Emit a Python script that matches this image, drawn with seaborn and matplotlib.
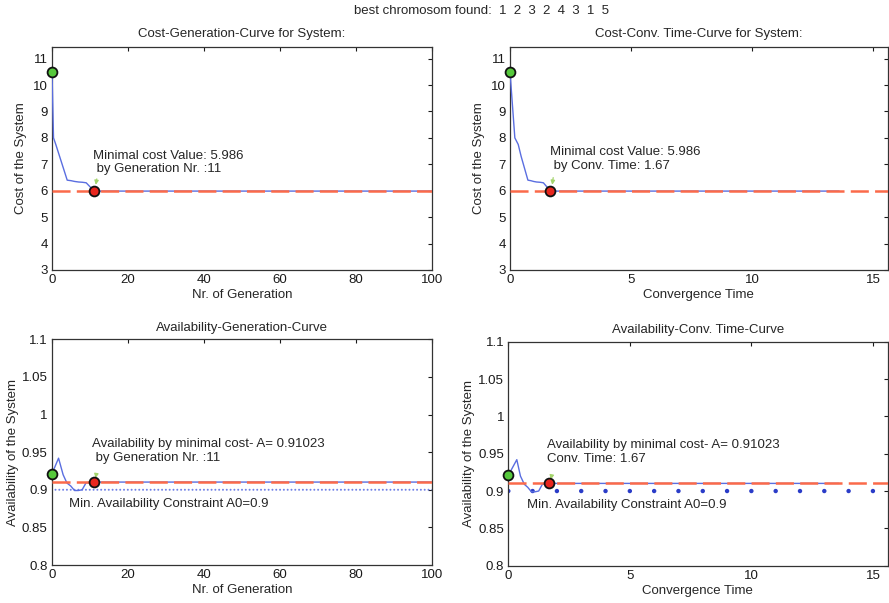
import matplotlib
matplotlib.use("Agg")
import matplotlib.pyplot as plt
import matplotlib.ticker as mticker
import numpy as np
import pandas as pd
import seaborn as sns

# ---- results of the genetic algorithm run ----
best_chromosome = [1, 2, 3, 2, 4, 3, 1, 5]

# best cost per generation (and the elapsed convergence time of each step)
cost_gen = [0, 0.4, 1, 2, 3, 4, 5, 6, 7, 8, 9, 10, 11]
cost_val = [10.5, 8.0, 7.75, 7.3, 6.85, 6.4, 6.38, 6.35, 6.33, 6.32, 6.3, 6.15, 5.986]
cost_time = [0, 0.2, 0.34, 0.46, 0.6, 0.74, 0.86, 0.98, 1.1, 1.24, 1.38, 1.52, 1.67]

# availability of the best individual per generation
avail_gen = [0, 0.8, 1.8, 3, 4, 5, 6, 7, 8, 9, 10, 11]
avail_val = [0.921, 0.93, 0.942, 0.92, 0.909, 0.905, 0.899, 0.899, 0.9, 0.909, 0.910, 0.91023]
avail_time = [0, 0.15, 0.35, 0.5, 0.66, 0.8, 0.95, 1.1, 1.25, 1.4, 1.55, 1.67]

last_gen = 100
last_time = 13.6
best_gen = 11
best_time = 1.67
min_cost = 5.986
best_avail = 0.91023
avail_constraint = 0.9

time_axis_max = 15.6
gen_ticks = [0, 20, 40, 60, 80, 100]
time_ticks = [0, 5, 10, 15]
cost_ticks = [3, 4, 5, 6, 7, 8, 9, 10, 11]
avail_ticks = [0.8, 0.85, 0.9, 0.95, 1.0, 1.05, 1.1]

# ---- styling ----
sns.set_theme(style="white")
plt.rcParams["font.family"] = ["Liberation Sans", "DejaVu Sans"]
plt.rcParams["lines.scale_dashes"] = False
FS = 9.5
CURVE = "#5a6ee0"
REDLINE = "#fb6a4a"
DOTS = "#2a3cc8"
ARROW = "#a4d46c"

fig = plt.figure(figsize=(8.89, 6.03), dpi=100)
W, H = 889, 603


def add_axes(left, right, top, bottom):
    return fig.add_axes([left / W, 1 - bottom / H, (right - left) / W, (bottom - top) / H])


ax_cg = add_axes(52, 432, 46.7, 270)
ax_ct = add_axes(510, 887.5, 46.7, 270)
ax_ag = add_axes(51.7, 432.3, 339.3, 565)
ax_at = add_axes(508.3, 887.5, 341.7, 565.7)


def style_axes(ax, xticks, yticks, xlim, ylim):
    ax.set_xlim(*xlim)
    ax.set_ylim(*ylim)
    ax.set_xticks(xticks)
    ax.set_yticks(yticks)
    ax.yaxis.set_major_formatter(mticker.FormatStrFormatter("%g"))
    ax.tick_params(direction="in", length=3, width=0.8, top=True, right=True,
                   labelsize=FS, colors="#1a1a1a", pad=3)
    for s in ax.spines.values():
        s.set_color("#333333")
        s.set_linewidth(0.9)


def draw_panel(ax, x_curve, y_curve, x_last, x_best, y_best, x_max):
    xs = list(x_curve) + [x_last]
    ys = list(y_curve) + [y_best]
    df = pd.DataFrame({"x": xs, "y": ys})
    sns.lineplot(data=df, x="x", y="y", ax=ax, color=CURVE, lw=1.0,
                 estimator=None, sort=False, zorder=3)
    ref = pd.DataFrame({"x": [0, x_max], "y": [y_best, y_best]})
    sns.lineplot(data=ref, x="x", y="y", ax=ax, color=REDLINE, lw=1.8,
                 estimator=None, zorder=4, dashes=False)
    ax.lines[-1].set_linestyle((0, (13, 4.5)))
    start = pd.DataFrame({"x": [x_curve[0]], "y": [y_curve[0]]})
    best = pd.DataFrame({"x": [x_best], "y": [y_best]})
    sns.scatterplot(data=start, x="x", y="y", ax=ax, s=50, color="#56c83c",
                    edgecolor="#111111", linewidth=1.3, zorder=5, clip_on=False)
    sns.scatterplot(data=best, x="x", y="y", ax=ax, s=50, color="#e8261e",
                    edgecolor="#111111", linewidth=1.3, zorder=5, clip_on=False)


def arrow(ax, xy, xytext):
    ax.annotate("", xy=xy, xytext=xytext,
                arrowprops=dict(arrowstyle="-|>", color=ARROW, lw=0.9, mutation_scale=6))


# Cost vs generation
draw_panel(ax_cg, cost_gen, cost_val, last_gen, best_gen, min_cost, last_gen)
style_axes(ax_cg, gen_ticks, cost_ticks, (0, 100), (3, 11.45))
ax_cg.set_title("Cost-Generation-Curve for System:", fontsize=FS, pad=7)
ax_cg.set_xlabel("Nr. of Generation", fontsize=FS, labelpad=2)
ax_cg.set_ylabel("Cost of the System", fontsize=FS, labelpad=4)
ax_cg.text(10.7, 7.07, f"Minimal cost Value: {min_cost:.3f}\n by Generation Nr. :{best_gen}",
           fontsize=FS, va="center", ha="left", linespacing=1.2)
arrow(ax_cg, (11.4, 6.12), (11.9, 6.55))

# Cost vs convergence time
draw_panel(ax_ct, cost_time, cost_val, last_time, best_time, min_cost, time_axis_max)
style_axes(ax_ct, time_ticks, cost_ticks, (0, time_axis_max), (3, 11.45))
ax_ct.set_title("Cost-Conv. Time-Curve for System:", fontsize=FS, pad=7)
ax_ct.set_xlabel("Convergence Time", fontsize=FS, labelpad=2)
ax_ct.set_ylabel("Cost of the System", fontsize=FS, labelpad=4)
ax_ct.text(1.65, 7.2, f"Minimal cost Value: {min_cost:.3f}\n by Conv. Time: {best_time:.2f}",
           fontsize=FS, va="center", ha="left", linespacing=1.2)
arrow(ax_ct, (1.73, 6.12), (1.8, 6.6))

# Availability vs generation
gens = np.arange(0, last_gen + 1)
sns.scatterplot(x=gens, y=[avail_constraint] * len(gens), ax=ax_ag, s=2,
                color="#6f80e6", edgecolor="none", zorder=2)
draw_panel(ax_ag, avail_gen, avail_val, last_gen, best_gen, best_avail, last_gen)
style_axes(ax_ag, gen_ticks, avail_ticks, (0, 100), (0.8, 1.1))
ax_ag.set_title("Availability-Generation-Curve", fontsize=FS, pad=6)
ax_ag.set_xlabel("Nr. of Generation", fontsize=FS, labelpad=2)
ax_ag.set_ylabel("Availability of the System", fontsize=FS, labelpad=2)
ax_ag.text(10.7, 0.9514,
           f"Availability by minimal cost- A= {best_avail:.5f}\n by Generation Nr. :{best_gen}",
           fontsize=FS, va="center", ha="left", linespacing=1.2)
ax_ag.text(4.5, 0.881, f"Min. Availability Constraint A0={avail_constraint:g}",
           fontsize=FS, va="center", ha="left")
arrow(ax_ag, (11.4, 0.9118), (11.8, 0.9235))

# Availability vs convergence time
times = np.arange(0, 16)
sns.scatterplot(x=times, y=[avail_constraint] * len(times), ax=ax_at, s=10,
                color=DOTS, edgecolor="none", zorder=2)
draw_panel(ax_at, avail_time, avail_val, last_time, best_time, best_avail, time_axis_max)
style_axes(ax_at, time_ticks, avail_ticks, (0, time_axis_max), (0.8, 1.1))
ax_at.set_title("Availability-Conv. Time-Curve", fontsize=FS, pad=6)
ax_at.set_xlabel("Convergence Time", fontsize=FS, labelpad=2)
ax_at.set_ylabel("Availability of the System", fontsize=FS, labelpad=2)
ax_at.text(1.6, 0.952,
           f"Availability by minimal cost- A= {best_avail:.5f}\nConv. Time: {best_time:.2f}",
           fontsize=FS, va="center", ha="left", linespacing=1.2)
ax_at.text(0.78, 0.881, f"Min. Availability Constraint A0={avail_constraint:g}",
           fontsize=FS, va="center", ha="left")
arrow(ax_at, (1.73, 0.9118), (1.8, 0.9235))

fig.text(482 / W, 1 - 11 / H,
         "best chromosom found:  " + "  ".join(str(g) for g in best_chromosome),
         fontsize=FS, ha="center", va="center")

fig.savefig("out.png", dpi=100)
